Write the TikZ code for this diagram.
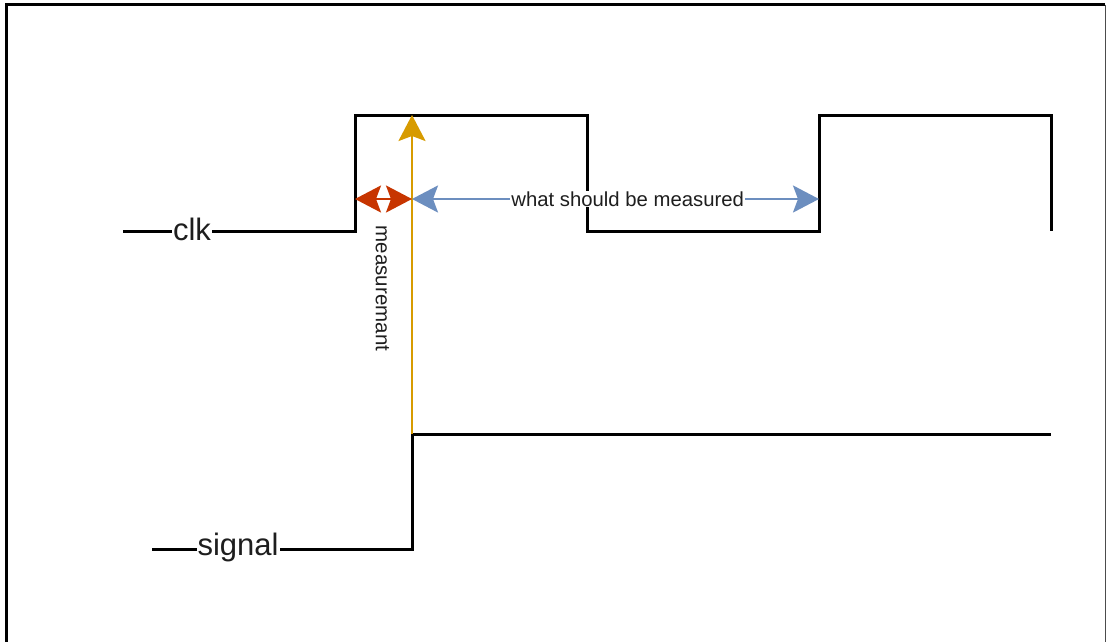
\documentclass[tikz,border=0pt]{standalone}
\usepackage{fontspec}
\setmainfont{Liberation Sans}
\usetikzlibrary{arrows.meta}
\definecolor{inkgray}{HTML}{1E1E1E}
\definecolor{edgeorange}{HTML}{D79B00}
\definecolor{edgered}{HTML}{C73500}
\definecolor{edgeblue}{HTML}{6C8EBF}
\begin{document}
\begin{tikzpicture}[x=1pt,y=-1pt,
  wave/.style={line width=3pt,black,line join=miter},
  frameline/.style={line width=3pt,black},
  bigtip/.tip={Stealth[length=26pt,width=27pt,inset=5pt]},
  dimline/.style={line width=2.3pt},
  siglabel/.style={fill=white,inner sep=1pt,text=inkgray,font=\fontsize{31}{36}\selectfont},
  dimlabel/.style={fill=white,inner sep=1pt,text=inkgray,font=\fontsize{20.3}{24}\selectfont}]
\useasboundingbox (0,0) rectangle (1109,641);
% outer frame (open at the bottom)
\draw[frameline] (6.5,645) -- (6.5,4.5) -- (1105,4.5);
\draw[line width=1.5pt,black!70] (1105.5,4.5) -- (1105.5,645);

% clock waveform
\coordinate (c0) at (123,231);
\coordinate (c1) at (355,231);
\coordinate (c2) at (355,115);
\coordinate (c3) at (587,115);
\coordinate (c4) at (587,231);
\coordinate (c5) at (819,231);
\coordinate (c6) at (819,115);
\coordinate (c7) at (1051,115);
\coordinate (c8) at (1051,231);
\draw[wave] (c0) -- (c1) -- (c2) -- (c3) -- (c4) -- (c5) -- (c6) -- (c7) -- (c8);
\node[siglabel] (clk) at (192,229) {clk};

% signal waveform
\coordinate (s0) at (152,549);
\coordinate (s1) at (412,549);
\coordinate (s2) at (412,434);
\coordinate (s3) at (1051,434);
\draw[wave] (s0) -- (s1) -- (s2) -- (s3);
\node[siglabel] (sig) at (238,547) {signal};

% measurement markers
\coordinate (top) at (412,115);
\coordinate (redL) at (355,199);
\coordinate (mid) at (412,199);
\coordinate (blueR) at (819,199);
\draw[dimline,edgeorange,-bigtip] (s2) -- (top);
\draw[dimline,edgered,bigtip-bigtip] (mid) -- (redL);
\draw[dimline,edgeblue,bigtip-bigtip] (mid) -- node[dimlabel,pos=0.53] (wsbm) {what should be measured} (blueR);
\node[rotate=-90,text=inkgray,font=\fontsize{20.5}{24}\selectfont,inner sep=0pt] (meas) at (382.5,288.5) {measuremant};
\end{tikzpicture}
\end{document}
